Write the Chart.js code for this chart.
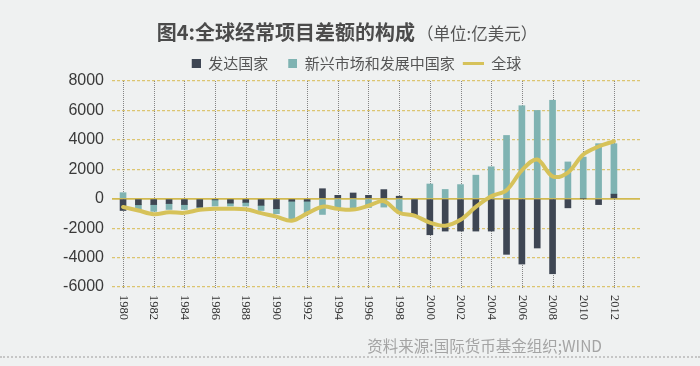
<!DOCTYPE html>
<html>
<head>
<meta charset="utf-8">
<script src="https://cdn.jsdelivr.net/npm/chart.js@4.4.1/dist/chart.umd.min.js"></script>
<style>
html,body{margin:0;padding:0;background:#eff1f1;}
#wrap{position:relative;width:700px;height:366px;overflow:hidden;background:#eff1f1;}
#c{position:absolute;left:0;top:0;}
#title{position:absolute;left:0;top:20px;width:694px;text-align:center;font-family:"Noto Sans CJK SC";font-weight:bold;font-size:20px;line-height:24px;color:#4b4b4b;white-space:nowrap;}
#title span{font-size:16.5px;font-weight:normal;color:#555;margin-left:2px;}
#src{position:absolute;right:98px;top:335px;font-family:"Noto Sans CJK SC";font-size:15.5px;line-height:20px;color:#a4a4a4;white-space:nowrap;}
#rule{position:absolute;left:0;top:356px;width:700px;border-top:2px dotted #c6c6c6;}
</style>
</head>
<body>
<div id="wrap">
  <canvas id="c" width="700" height="366"></canvas>
  <div id="title">图4:全球经常项目差额的构成<span>（单位:亿美元）</span></div>
  <div id="src">资料来源:国际货币基金组织;WIND</div>
  <div id="rule"></div>
</div>
<script>
// ---- data (亿美元) ----
const years = [1980,1981,1982,1983,1984,1985,1986,1987,1988,1989,1990,1991,1992,1993,1994,1995,1996,1997,1998,1999,2000,2001,2002,2003,2004,2005,2006,2007,2008,2009,2010,2011,2012];
const developed = [-800,-410,-400,-330,-400,-570,-80,-300,-250,-450,-680,-170,-170,680,230,390,230,620,170,-1080,-2450,-2200,-2200,-2200,-2200,-3780,-4440,-3350,-5100,-620,0,-400,310];
const emerging = [410,-320,-460,-400,-330,-30,-420,-200,-250,-350,-340,-1300,-850,-1070,-680,-720,-600,-570,-880,0,1000,630,960,1600,2170,4300,6320,6000,6690,2500,2830,3740,3430];
const world = [-560,-800,-1050,-920,-960,-750,-680,-680,-720,-980,-1220,-1500,-1000,-540,-690,-740,-480,-170,-950,-1150,-1620,-1830,-1430,-560,160,580,1930,2660,1520,1780,3000,3550,3900];
const xTickYears = [1980,1982,1984,1986,1988,1990,1992,1994,1996,1998,2000,2002,2004,2006,2008,2010,2012];
const yTickValues = [-6000,-4000,-2000,0,2000,4000,6000,8000];
const seriesNames = ['发达国家','新兴市场和发展中国家','全球'];

const COL_DARK = '#3e4653';
const COL_TEAL = '#7fb3b2';
const COL_LINE = '#d6c25a';

function glyph(color, w, h, boxW) {
  const c = document.createElement('canvas');
  c.width = boxW; c.height = h;
  const g = c.getContext('2d');
  g.fillStyle = color;
  g.fillRect(boxW - w, 0, w, h);
  return c;
}
const glyphs = [glyph(COL_DARK, 9, 9, 22), glyph(COL_TEAL, 9, 9, 22), glyph(COL_LINE, 21, 3, 22)];

// vertical dotted grid lines at the x scale's ticks
const xGridPlugin = {
  id: 'xGrid',
  beforeDatasetsDraw(chart) {
    const s = chart.scales.x, ctx = chart.ctx, a = chart.chartArea;
    ctx.save();
    ctx.strokeStyle = '#858585';
    ctx.lineWidth = 1;
    ctx.setLineDash([1, 1]);
    s.ticks.forEach(t => {
      const px = Math.round(s.getPixelForValue(t.value)) + 0.5;
      ctx.beginPath();
      ctx.moveTo(px, a.top);
      ctx.lineTo(px, a.bottom + 1);
      ctx.stroke();
    });
    ctx.restore();
  }
};

// x labels rotated clockwise (read top to bottom)
const xLabelPlugin = {
  id: 'xLabels',
  afterDraw(chart) {
    const s = chart.scales.x, ctx = chart.ctx;
    ctx.save();
    ctx.font = '12.5px "Liberation Serif"';
    ctx.fillStyle = '#333';
    ctx.textAlign = 'left';
    ctx.textBaseline = 'middle';
    s.ticks.forEach(t => {
      const px = s.getPixelForValue(t.value);
      ctx.save();
      ctx.translate(px, chart.chartArea.bottom + 8);
      ctx.rotate(Math.PI / 2);
      ctx.fillText(String(t.value), 0, 0);
      ctx.restore();
    });
    ctx.restore();
  }
};

const pts = arr => years.map((y, i) => ({x: y, y: arr[i]}));

new Chart(document.getElementById('c'), {
  type: 'bar',
  data: {
    datasets: [
      {label: seriesNames[0], data: pts(developed), backgroundColor: COL_DARK, stack: 'bars', order: 1, barThickness: 6},
      {label: seriesNames[1], data: pts(emerging), backgroundColor: COL_TEAL, stack: 'bars', order: 1, barThickness: 6},
      {type: 'line', label: seriesNames[2], data: pts(world), borderColor: COL_LINE, backgroundColor: COL_LINE,
       borderWidth: 4, pointRadius: 0, tension: 0.35, stack: 'world', order: 0,
       borderCapStyle: 'round', borderJoinStyle: 'round'}
    ]
  },
  options: {
    responsive: false,
    animation: false,
    layout: {padding: {left: 60, right: 60, top: 43.5, bottom: 0}},
    plugins: {
      title: {display: false},
      tooltip: {enabled: false},
      legend: {
        display: true,
        position: 'top',
        align: 'center',
        labels: {
          usePointStyle: true,
          pointStyleWidth: 22,
          boxHeight: 15,
          padding: 7,
          color: '#555',
          font: {family: '"Noto Sans CJK SC"', size: 15},
          generateLabels: (chart) => chart.data.datasets.map((d, i) => ({
            text: d.label, datasetIndex: i, hidden: false,
            pointStyle: glyphs[i], fillStyle: 'transparent', strokeStyle: 'transparent', lineWidth: 0,
            fontColor: '#555'
          }))
        }
      }
    },
    scales: {
      x: {
        type: 'linear',
        min: 1979.28,
        max: 2013.7,
        offset: false,
        afterBuildTicks: s => { s.ticks = xTickYears.map(v => ({value: v})); },
        afterFit: s => { s.height = 79; },
        ticks: {display: false, callback: v => String(v)},
        grid: {display: false, drawTicks: false},
        border: {display: false}
      },
      y: {
        stacked: true,
        min: -6000,
        max: 8000,
        afterBuildTicks: s => { s.ticks = yTickValues.map(v => ({value: v})); },
        afterFit: s => { s.width = 112 - 60; s.paddingTop = 81; },
        ticks: {
          callback: v => String(v),
          color: '#3a3a3a',
          padding: 8,
          font: {family: '"Liberation Sans"', size: 16}
        },
        grid: {
          display: true,
          drawOnChartArea: true,
          drawTicks: false,
          color: ctx => (ctx.tick && ctx.tick.value === 0) ? '#d2ba50' : '#dcc570',
          lineWidth: ctx => (ctx.tick && ctx.tick.value === 0) ? 1.8 : 1.2
        },
        border: {
          display: false,
          dash: ctx => (ctx.tick && ctx.tick.value === 0) ? [] : [3, 2]
        }
      }
    }
  },
  plugins: [xGridPlugin, xLabelPlugin]
});
</script>
</body>
</html>
